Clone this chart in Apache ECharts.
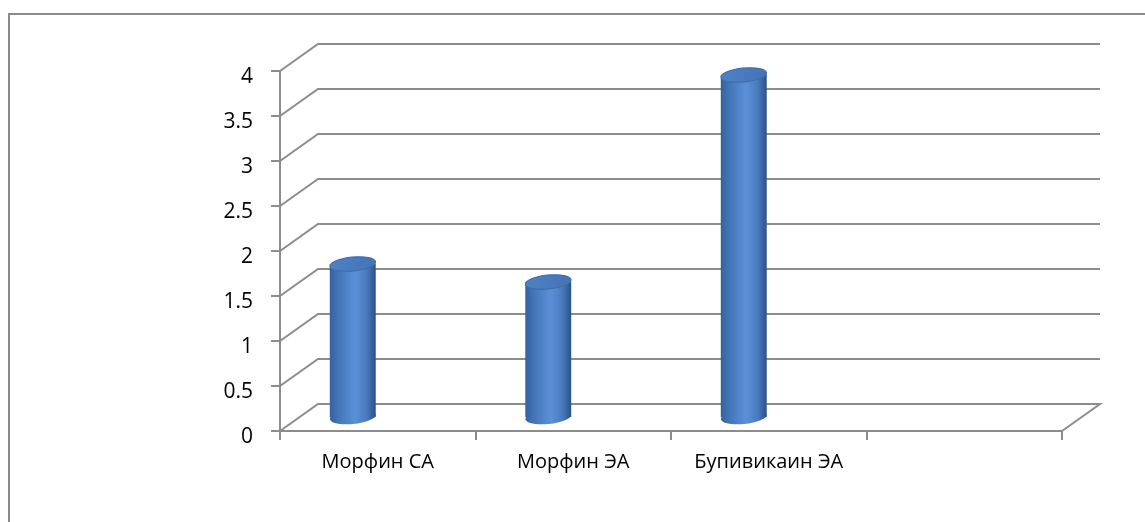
<!DOCTYPE html>
<html>
<head>
<meta charset="utf-8">
<script src="https://cdn.jsdelivr.net/npm/echarts@6/dist/echarts.min.js"></script>
<style>
  html, body { margin: 0; padding: 0; background: #fff; }
  #chart { width: 1145px; height: 522px; }
</style>
</head>
<body>
<div id="chart"></div>
<script>
// данные
const categories = ['Морфин СА', 'Морфин ЭА', 'Бупивикаин ЭА', ''];
const values = [1.7, 1.5, 3.8, null];
const yTicks = [0, 0.5, 1, 1.5, 2, 2.5, 3, 3.5, 4];

// псевдо-3D: смещение задней стенки
const depthX = 38;
const depthY = 27;
const barShift = -25;   // сдвиг цилиндра от центра категории
const barLift = 14;     // цилиндр стоит в середине глубины
const gridColor = '#8c8c8c';

const sideFill = {
  type: 'linear', x: 0, y: 0, x2: 1, y2: 0,
  colorStops: [
    { offset: 0, color: '#3462a0' },
    { offset: 0.18, color: '#4474b7' },
    { offset: 0.55, color: '#5b90d8' },
    { offset: 0.8, color: '#4a7bbf' },
    { offset: 1, color: '#2c5186' },
  ],
}
const topFill = {
  type: 'linear', x: 0, y: 0, x2: 1, y2: 1,
  colorStops: [
    { offset: 0, color: '#4f82c6' },
    { offset: 1, color: '#4473b5' },
  ],
}

const chart = echarts.init(document.getElementById('chart'))
chart.setOption({
  animation: false,
  graphic: [
    {
      type: 'rect',
      shape: { x: 9, y: 14, width: 1300, height: 700 },
      style: { fill: null, stroke: '#8a8a8a', lineWidth: 2 },
      silent: true,
    },
  ],
  grid: { left: 280, right: 83, top: 71, bottom: 91 },
  xAxis: {
    type: 'category',
    data: categories,
    axisLine: { lineStyle: { color: gridColor, width: 2 } },
    axisTick: { show: true, length: 9, lineStyle: { color: gridColor, width: 2 } },
    axisLabel: {
      color: '#000',
      fontFamily: 'Open Sans',
      fontSize: 20,
      margin: 21,
    },
    splitLine: { show: false },
  },
  yAxis: {
    type: 'value',
    min: 0,
    max: 4,
    interval: 0.5,
    axisLine: { show: true, lineStyle: { color: gridColor, width: 2 } },
    axisTick: { show: true, length: 9, lineStyle: { color: gridColor, width: 2 } },
    axisLabel: {
      margin: 27,
      formatter: '{v|{value}}',
      rich: {
        v: {
          color: '#000',
          fontFamily: 'Open Sans',
          fontSize: 21,
          padding: [13, 0, 0, 0],
        },
      },
    },
    splitLine: { show: false },
  },
  series: [
    // линии сетки на стенке и полу
    {
      type: 'custom',
      z: 1,
      silent: true,
      data: yTicks.map(v => [0, v]),
      renderItem(params, api) {
        const cs = params.coordSys
        const v = api.value(1)
        const y = api.coord([0, v])[1]
        const pts = [
          [cs.x, y],
          [cs.x + depthX, y - depthY],
          [cs.x + cs.width + depthX, y - depthY],
        ]
        if (v === 0) pts.push([cs.x + cs.width, y])
        return {
          type: 'polyline',
          shape: { points: pts },
          style: { stroke: gridColor, lineWidth: 2, fill: null },
        }
      },
    },
    // цилиндры
    {
      type: 'custom',
      z: 3,
      data: values.map((v, i) => [i, v]).filter(d => d[1] != null),
      renderItem(params, api) {
        const i = api.value(0)
        const cx = api.coord([i, 0])[0] + barShift
        const yBot = api.coord([i, 0])[1] - barLift
        const yTop = api.coord([i, api.value(1)])[1] - barLift
        const w = api.size([1, 0])[0] * 0.235
        const rx = w / 2
        const ry = 7
        const tilt = 0.1
        return {
          type: 'group',
          children: [
            {
              type: 'ellipse',
              shape: { cx, cy: yBot, rx, ry },
              originX: cx, originY: yBot, rotation: tilt,
              style: { fill: sideFill },
            },
            {
              type: 'rect',
              shape: { x: cx - rx, y: yTop, width: w, height: yBot - yTop },
              style: { fill: sideFill },
            },
            {
              type: 'ellipse',
              shape: { cx, cy: yTop, rx, ry },
              originX: cx, originY: yTop, rotation: tilt,
              style: { fill: topFill, stroke: '#3f6ba8', lineWidth: 1 },
            },
          ],
        }
      },
    },
  ],
})
</script>
</body>
</html>
